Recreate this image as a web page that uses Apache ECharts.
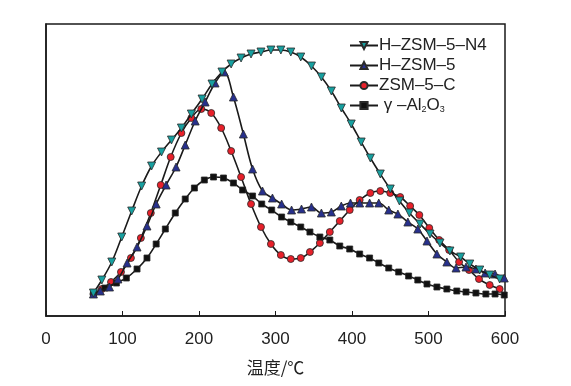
<!DOCTYPE html>
<html>
<head>
<meta charset="utf-8">
<script src="https://cdn.jsdelivr.net/npm/echarts@6/dist/echarts.min.js"></script>
<style>html,body{margin:0;padding:0;background:#fff}#c{width:571px;height:386px}</style>
</head>
<body>
<div id="c"></div>
<script>
// Temperature (°C) and signal (a.u.) pairs
var seriesNames = ['H–ZSM–5–N4', 'H–ZSM–5', 'ZSM–5–C', 'γ-Al2O3'];
var xTicks = [0, 100, 200, 300, 400, 500, 600];

var hzsm5N4 = [[62,23],[73,36],[86,54],[99,79],[112,105],[125,130],[138,150],[151,164],[164,176],[177,188],[190,202],[204,217],[217,232],[230,244],[242,252],[255,258],[268,262],[281,264],[294,266],[307,266],[320,264],[333,259],[347,250],[360,239],[373,225],[386,208],[399,192],[412,174],[424,158],[437,142],[450,127],[462,115],[475,103],[489,92],[502,82],[515,73],[528,65],[542,59],[554,52],[567,46],[580,41],[593,37]];

var hzsm5 = [[62,22],[71,25],[83,29],[94,37],[106,53],[119,69],[132,90],[144,112],[157,131],[170,149],[182,171],[195,195],[208,214],[221,233],[233,244],[245,219],[258,182],[270,147],[283,125],[296,118],[308,112],[321,106],[334,107],[347,109],[360,103],[373,104],[386,110],[398,113],[410,113],[423,113],[435,113],[448,106],[460,102],[473,94],[486,87],[498,75],[511,62],[524,54],[536,48],[549,49],[562,47],[574,43],[587,42],[599,38]];

var zsm5C = [[62,22],[73,27],[85,34],[98,44],[111,58],[124,78],[137,103],[150,131],[163,159],[177,183],[190,198],[203,207],[216,203],[229,188],[242,165],[255,139],[268,112],[281,89],[294,72],[307,61],[320,57],[333,58],[345,64],[358,73],[371,84],[384,95],[397,106],[410,116],[424,123],[437,125],[450,123],[463,119],[476,110],[488,101],[501,88],[514,76],[527,66],[540,54],[553,46],[566,37],[580,31],[593,27]];

var al2o3 = [[62,23],[77,28],[92,33],[105,38],[119,47],[132,58],[144,72],[156,87],[169,103],[182,117],[194,128],[207,136],[219,139],[232,138],[245,133],[257,126],[270,120],[282,112],[295,106],[308,99],[320,94],[333,89],[345,84],[358,79],[371,76],[384,70],[397,67],[410,62],[423,58],[435,53],[448,48],[461,44],[474,40],[486,36],[498,32],[511,29],[524,27],[537,25],[549,24],[562,23],[575,22],[587,22],[599,21]];

var chart = echarts.init(document.getElementById('c'));
function mk(name, data, symbol, rot, size, color, z) {
  return {
    name: name, type: 'line', data: data, smooth: 0.35, z: z,
    symbol: symbol, symbolRotate: rot, symbolSize: size, showSymbol: true,
    lineStyle: { color: '#1a1a1a', width: 1.6 },
    itemStyle: { color: color, borderColor: '#2a2a2a', borderWidth: 0.8 },
    emphasis: { disabled: true }, animation: false
  };
}
chart.setOption({
  animation: false,
  grid: { left: 46, right: 66, top: 24, bottom: 70, show: true, borderColor: '#1a1a1a', borderWidth: 1.5, backgroundColor: 'transparent' },
  legend: {
    data: seriesNames, orient: 'vertical', left: 344, top: 32, itemGap: 3,
    itemWidth: 28, itemHeight: 9,
    textStyle: { fontFamily: 'Liberation Sans, Arial, sans-serif', fontSize: 17, color: '#222', padding: [0,0,0,-4],
      rich: { sub: { fontSize: 9, verticalAlign: 'bottom', padding: [8,0,0,0], fontFamily: 'Liberation Sans, Arial, sans-serif', color: '#222' },
              n: { fontSize: 17, fontFamily: 'Liberation Sans, Arial, sans-serif', color: '#222' } } },
    formatter: function (n) {
      if (n === 'γ-Al2O3') return '{n| γ –Al}{sub|2}{n|O}{sub|3}';
      return n;
    }
  },
  xAxis: {
    type: 'value', min: 0, max: 600, interval: 100,
    name: '温度/℃', nameLocation: 'middle', nameGap: 43,
    nameTextStyle: { fontFamily: 'Noto Sans CJK SC', fontSize: 17, color: '#222' },
    axisLine: { lineStyle: { color: '#1a1a1a', width: 1.5 } },
    axisTick: { inside: true, length: 5, lineStyle: { color: '#1a1a1a' } },
    axisLabel: { fontFamily: 'Liberation Sans, Arial, sans-serif', fontSize: 17, color: '#222', margin: 15,
      formatter: function (v) { return xTicks.indexOf(v) >= 0 ? String(v) : ''; } },
    splitLine: { show: false }
  },
  yAxis: {
    type: 'value', min: 0, max: 292,
    axisLine: { show: true, lineStyle: { color: '#1a1a1a', width: 1.5 } },
    axisTick: { show: false }, axisLabel: { show: false }, splitLine: { show: false }
  },
  series: [
    mk(seriesNames[0], hzsm5N4, 'triangle', 180, 8, '#17a0a0', 6),
    mk(seriesNames[1], hzsm5, 'triangle', 0, 8, '#27308c', 5),
    mk(seriesNames[2], zsm5C, 'circle', 0, 7, '#e8202a', 3),
    mk(seriesNames[3], al2o3, 'rect', 0, 6, '#111111', 4)
  ]
});
</script>
</body>
</html>
